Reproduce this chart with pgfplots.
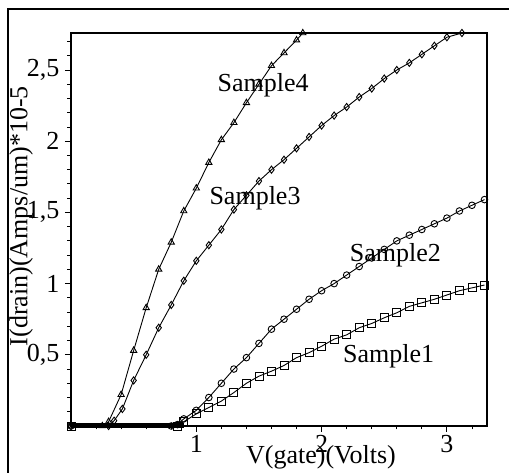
\documentclass[border=0pt]{standalone}
\usepackage{pgfplots}
\pgfplotsset{compat=1.18}
\usepackage{fontspec}
\setmainfont{Liberation Serif}
\begin{document}
\begin{tikzpicture}[x=1pt,y=1pt,font=\fontsize{26}{30}\selectfont]
\useasboundingbox (0,0) rectangle (509,473);
\draw[line width=1.3pt] (8,0) -- (8,464) -- (509,464);
\begin{axis}[
  at={(71pt,47pt)}, anchor=south west,
  scale only axis, width=416pt, height=393pt,
  xmin=0, xmax=3.32, ymin=0, ymax=2.76,
  clip=false,
  axis line style={line width=1.2pt},
  tick pos=left, tick align=outside,
  major tick length=6pt, minor tick length=3.5pt,
  every tick/.style={black, line width=0.9pt},
  xtick={1,2,3}, ytick={0.5,1,1.5,2,2.5},
  minor xtick={0.2,0.4,0.6,0.8,1.2,1.4,1.6,1.8,2.2,2.4,2.6,2.8,3.2},
  minor ytick={0.1,0.2,0.3,0.4,0.6,0.7,0.8,0.9,1.1,1.2,1.3,1.4,1.6,1.7,1.8,1.9,2.1,2.2,2.3,2.4,2.6,2.7},
  /pgf/number format/assume math mode=true,
  /pgf/number format/use comma,
  xticklabel style={font=\fontsize{26}{30}\selectfont},
  yticklabel style={font=\fontsize{26}{30}\selectfont, xshift=-2pt},
  xlabel={V(gate)(Volts)},
  ylabel={I(drain)(Amps/um)*10-5},
  xlabel style={at={(axis description cs:0.601,-0.079)}, anchor=center, font=\fontsize{26}{30}\selectfont},
  ylabel style={at={(axis description cs:-0.12,0.534)}, anchor=center, font=\fontsize{26}{30}\selectfont},
  every axis plot/.append style={black, line width=0.9pt},
  mark options={solid, line width=0.9pt},
]
% flat (off-state) part, where the marks of all samples pile up
\addplot[line width=5pt, no markers] coordinates {(0,0.005)(0.9,0.005)};
% Sample1 (squares)
\addplot[mark=square, mark size=4pt] coordinates {
(0,0)(0.85,0)
(0.9,0.03)(1.0,0.085)(1.1,0.13)(1.2,0.175)(1.3,0.235)(1.4,0.30)(1.5,0.35)(1.6,0.385)(1.7,0.425)(1.8,0.48)(1.9,0.515)(2.0,0.56)(2.1,0.61)(2.2,0.64)(2.3,0.69)(2.4,0.72)(2.5,0.76)(2.6,0.795)(2.7,0.84)(2.8,0.865)(2.9,0.89)(3.0,0.92)(3.1,0.95)(3.2,0.97)(3.3,0.99)};
% Sample2 (circles)
\addplot[mark=o, mark size=3.3pt] coordinates {
(0,0)(0.8,0)(0.85,0.01)
(0.9,0.05)(1.0,0.11)(1.1,0.20)(1.2,0.30)(1.3,0.40)(1.4,0.48)(1.5,0.58)(1.6,0.68)(1.7,0.75)(1.8,0.82)(1.9,0.89)(2.0,0.95)(2.1,1.00)(2.2,1.06)(2.3,1.12)(2.4,1.18)(2.5,1.24)(2.6,1.30)(2.7,1.34)(2.8,1.38)(2.9,1.42)(3.0,1.46)(3.1,1.51)(3.2,1.55)(3.3,1.59)};
% Sample3 (diamonds)
\addplot[mark=diamond, mark size=3.6pt] coordinates {
(0,0)(0.3,0)(0.344,0.037)(0.41,0.12)(0.5,0.32)(0.6,0.50)(0.7,0.69)(0.8,0.85)(0.9,1.02)(1.0,1.16)(1.1,1.27)(1.2,1.38)(1.3,1.52)(1.4,1.62)(1.5,1.72)(1.6,1.80)(1.7,1.87)(1.8,1.95)(1.9,2.03)(2.0,2.11)(2.1,2.18)(2.2,2.24)(2.3,2.31)(2.4,2.37)(2.5,2.44)(2.6,2.50)(2.7,2.55)(2.8,2.61)(2.9,2.67)(3.0,2.73)(3.12,2.76)};
% Sample4 (triangles)
\addplot[mark=triangle, mark size=3.6pt] coordinates {
(0,0)(0.25,0)(0.3,0.03)(0.4,0.22)(0.5,0.53)(0.6,0.83)(0.7,1.10)(0.8,1.29)(0.9,1.51)(1.0,1.67)(1.1,1.85)(1.2,2.01)(1.3,2.13)(1.4,2.27)(1.5,2.40)(1.6,2.53)(1.7,2.62)(1.8,2.71)(1.85,2.76)};
\node[anchor=base west, inner sep=0pt] at (axis cs:1.168,2.35) {Sample4};
\node[anchor=base west, inner sep=0pt] at (axis cs:1.104,1.553) {Sample3};
\node[anchor=base west, inner sep=0pt] at (axis cs:2.224,1.155) {Sample2};
\node[anchor=base west, inner sep=0pt] at (axis cs:2.17,0.446) {Sample1};
\end{axis}
\end{tikzpicture}
\end{document}
